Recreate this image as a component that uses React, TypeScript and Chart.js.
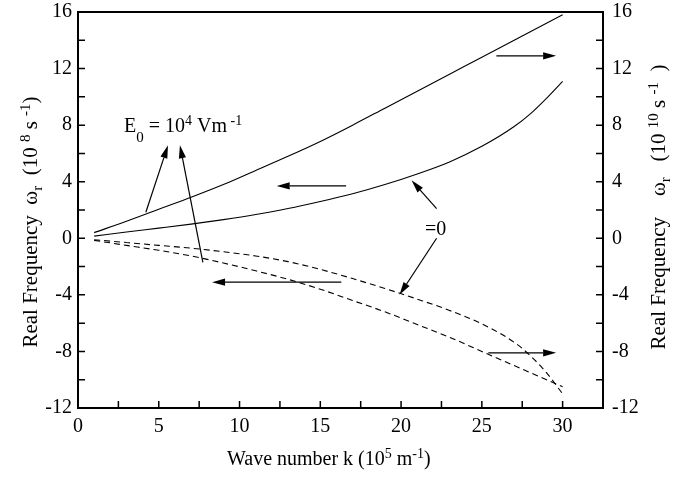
import React, { useEffect, useRef } from 'react';
import { Chart, registerables } from 'chart.js';

Chart.register(...registerables);

// ---- data ----
const waveNumbers = [1, 3, 5, 7, 9, 11, 13, 15, 17, 19, 21, 23, 25, 27, 28, 29, 30];
const solidUpper = [0.4, 1.2, 2.05, 2.9, 3.8, 4.8, 5.8, 6.85, 8.0, 9.2, 10.4, 11.6, 12.8, 14.0, 14.6, 15.2, 15.8];
const solidLower = [0.15, 0.45, 0.72, 1.0, 1.32, 1.68, 2.1, 2.6, 3.15, 3.8, 4.55, 5.4, 6.5, 7.9, 8.8, 9.9, 11.1];
const dashedUpper = [-0.1, -0.3, -0.5, -0.7, -0.95, -1.25, -1.65, -2.2, -2.85, -3.55, -4.3, -5.1, -6.05, -7.35, -8.3, -9.5, -11.0];
const dashedLower = [-0.15, -0.5, -0.85, -1.25, -1.75, -2.3, -2.9, -3.6, -4.4, -5.2, -6.1, -7.0, -8.0, -9.0, -9.5, -10.0, -10.5];

const xTickValues = [0, 5, 10, 15, 20, 25, 30];
const yTickValues = [-12, -8, -4, 0, 4, 8, 12, 16];
const X_MIN = 0;
const X_MAX = 32.5;
const Y_MIN = -12;
const Y_MAX = 16;

// arrows in data coordinates: [fromK, fromV, toK, toV]
const arrows: number[][] = [
  [25.9, 12.9, 29.6, 12.9],
  [16.6, 3.7, 12.3, 3.7],
  [16.3, -3.1, 8.3, -3.1],
  [25.4, -8.1, 29.6, -8.1],
  [4.2, 1.84, 5.57, 6.58],
  [7.73, -1.7, 6.31, 6.58],
  [22.2, 2.1, 20.65, 4.1],
  [22.2, 0.0, 19.9, -4.0],
];

const FONT = "'Liberation Serif', 'Times New Roman', serif";

type Seg = { t: string; size: number; dy: number };

function drawRich(ctx: CanvasRenderingContext2D, segs: Seg[], x: number, y: number, align: 'left' | 'center', rot = 0) {
  ctx.save();
  ctx.translate(x, y);
  ctx.rotate(rot);
  ctx.textAlign = 'left';
  ctx.textBaseline = 'alphabetic';
  ctx.fillStyle = '#000';
  const widths = segs.map((s) => {
    ctx.font = `${s.size}px ${FONT}`;
    return ctx.measureText(s.t).width;
  });
  const total = widths.reduce((a, b) => a + b, 0);
  let cx = align === 'center' ? -total / 2 : 0;
  segs.forEach((s, i) => {
    ctx.font = `${s.size}px ${FONT}`;
    ctx.fillText(s.t, cx, s.dy);
    cx += widths[i];
  });
  ctx.restore();
}

function drawArrow(ctx: CanvasRenderingContext2D, x1: number, y1: number, x2: number, y2: number) {
  const ang = Math.atan2(y2 - y1, x2 - x1);
  const len = 13;
  const hw = 3.6;
  const bx = x2 - len * Math.cos(ang);
  const by = y2 - len * Math.sin(ang);
  ctx.beginPath();
  ctx.moveTo(x1, y1);
  ctx.lineTo(bx, by);
  ctx.stroke();
  ctx.beginPath();
  ctx.moveTo(x2, y2);
  ctx.lineTo(bx + hw * Math.sin(ang), by - hw * Math.cos(ang));
  ctx.lineTo(bx - hw * Math.sin(ang), by + hw * Math.cos(ang));
  ctx.closePath();
  ctx.fill();
}

const decorPlugin = {
  id: 'decor',
  afterDraw(chart: any) {
    const ctx: CanvasRenderingContext2D = chart.ctx;
    const { left, right, top, bottom } = chart.chartArea;
    const xs = chart.scales.x;
    const ys = chart.scales.y;
    ctx.save();
    ctx.strokeStyle = '#000';
    ctx.fillStyle = '#000';
    // frame
    ctx.lineWidth = 2;
    ctx.strokeRect(left, top, right - left, bottom - top);
    // ticks (inward)
    ctx.lineWidth = 1.5;
    ctx.beginPath();
    for (let v = Y_MIN; v <= Y_MAX; v += 2) {
      const py = ys.getPixelForValue(v);
      ctx.moveTo(left, py);
      ctx.lineTo(left + 7, py);
      ctx.moveTo(right, py);
      ctx.lineTo(right - 7, py);
    }
    for (let k = X_MIN; k <= X_MAX; k += 2.5) {
      const px = xs.getPixelForValue(k);
      ctx.moveTo(px, bottom);
      ctx.lineTo(px, bottom - 7);
    }
    ctx.stroke();

    // arrows
    ctx.lineWidth = 1.2;
    arrows.forEach((a) => {
      drawArrow(
        ctx,
        xs.getPixelForValue(a[0]),
        ys.getPixelForValue(a[1]),
        xs.getPixelForValue(a[2]),
        ys.getPixelForValue(a[3])
      );
    });
    ctx.restore();

    // annotation texts
    drawRich(
      ctx,
      [
        { t: 'E', size: 20, dy: 0 },
        { t: '0', size: 15, dy: 10 },
        { t: ' = 10', size: 20, dy: 0 },
        { t: '4', size: 14, dy: -7 },
        { t: ' Vm', size: 20, dy: 0 },
        { t: ' -1', size: 14, dy: -7 },
      ],
      124,
      132,
      'left'
    );
    drawRich(ctx, [{ t: '=0', size: 20, dy: 0 }], 425, 235, 'left');

    // axis titles
    drawRich(
      ctx,
      [
        { t: 'Wave number k (10', size: 20, dy: 0 },
        { t: '5', size: 14, dy: -7 },
        { t: ' m', size: 20, dy: 0 },
        { t: '-1', size: 14, dy: -7 },
        { t: ')', size: 20, dy: 0 },
      ],
      227,
      465,
      'left'
    );
    drawRich(
      ctx,
      [
        { t: 'Real Frequency  \u03c9', size: 21, dy: 0 },
        { t: 'r', size: 15, dy: 5 },
        { t: '  (10 ', size: 21, dy: 0 },
        { t: '8', size: 15, dy: -7 },
        { t: ' s ', size: 21, dy: 0 },
        { t: '-1', size: 15, dy: -7 },
        { t: ')', size: 21, dy: 0 },
      ],
      37,
      222,
      'center',
      -Math.PI / 2
    );
    drawRich(
      ctx,
      [
        { t: 'Real Frequency    \u03c9', size: 21, dy: 0 },
        { t: 'r', size: 15, dy: 5 },
        { t: '   (10 ', size: 21, dy: 0 },
        { t: '10', size: 15, dy: -7 },
        { t: ' s ', size: 21, dy: 0 },
        { t: '-1', size: 15, dy: -7 },
        { t: '  )', size: 21, dy: 0 },
      ],
      665,
      207,
      'center',
      -Math.PI / 2
    );
  },
};

function pts(ys: number[]) {
  return waveNumbers.map((k, i) => ({ x: k, y: ys[i] }));
}

export default function App() {
  const ref = useRef<HTMLCanvasElement | null>(null);

  useEffect(() => {
    if (!ref.current) return;
    const tickFont = { family: FONT, size: 20 };
    const lineCommon = {
      borderColor: '#000',
      borderWidth: 1.1,
      pointRadius: 0,
      fill: false,
      cubicInterpolationMode: 'monotone' as const,
    };
    const zeroPad = (s: any) => {
      s.paddingTop = 0;
      s.paddingBottom = 0;
      s.paddingLeft = 0;
      s.paddingRight = 0;
    };
    const chart = new Chart(ref.current, {
      type: 'line',
      data: {
        datasets: [
          { ...lineCommon, label: 'solid upper', data: pts(solidUpper), yAxisID: 'y2' },
          { ...lineCommon, label: 'solid lower', data: pts(solidLower), yAxisID: 'y' },
          { ...lineCommon, label: 'dashed upper', data: pts(dashedUpper), yAxisID: 'y', borderDash: [6, 4] },
          { ...lineCommon, label: 'dashed lower', data: pts(dashedLower), yAxisID: 'y2', borderDash: [6, 4] },
        ],
      },
      options: {
        animation: false,
        responsive: false,
        maintainAspectRatio: false,
        layout: { padding: { top: 12, left: 0, right: 0, bottom: 0 } },
        plugins: {
          legend: { display: false },
          tooltip: { enabled: false },
          title: { display: false },
        },
        scales: {
          x: {
            type: 'linear',
            min: X_MIN,
            max: X_MAX,
            grid: { display: false, drawTicks: false },
            border: { display: false },
            ticks: { font: tickFont, color: '#000', padding: 7, maxRotation: 0 },
            afterBuildTicks: (s: any) => {
              s.ticks = xTickValues.map((v) => ({ value: v }));
            },
            afterFit: (s: any) => {
              s.height = 69;
              zeroPad(s);
            },
          },
          y: {
            type: 'linear',
            position: 'left',
            min: Y_MIN,
            max: Y_MAX,
            grid: { display: false, drawTicks: false },
            border: { display: false },
            ticks: { font: tickFont, color: '#000', padding: 6 },
            afterBuildTicks: (s: any) => {
              s.ticks = yTickValues.map((v) => ({ value: v }));
            },
            afterFit: (s: any) => {
              s.width = 78;
              zeroPad(s);
            },
          },
          y2: {
            type: 'linear',
            position: 'right',
            min: Y_MIN,
            max: Y_MAX,
            grid: { display: false, drawTicks: false },
            border: { display: false },
            ticks: { font: tickFont, color: '#000', padding: 9 },
            afterBuildTicks: (s: any) => {
              s.ticks = yTickValues.map((v) => ({ value: v }));
            },
            afterFit: (s: any) => {
              s.width = 95;
              zeroPad(s);
            },
          },
        },
      } as any,
      plugins: [decorPlugin],
    });
    return () => chart.destroy();
  }, []);

  return (
    <div style={{ position: 'fixed', left: 0, top: 0, width: 698, height: 477, background: '#fff' }}>
      <canvas ref={ref} width={698} height={477} style={{ display: 'block', width: 698, height: 477 }} />
    </div>
  );
}
